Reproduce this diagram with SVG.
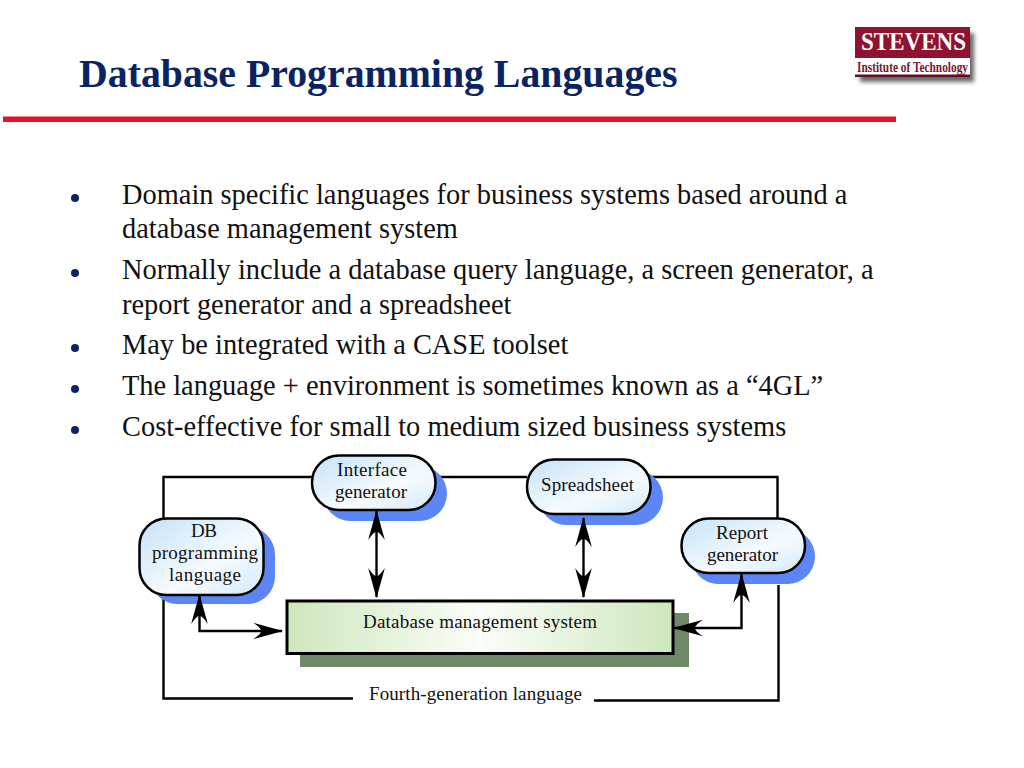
<svg xmlns="http://www.w3.org/2000/svg" width="1024" height="768" viewBox="0 0 1024 768">
<style>
text{font-family:"Liberation Serif","Times New Roman",serif}
.title{font-size:39.800px;font-weight:bold;fill:#0a2463}
.b{font-size:28.400px;fill:#111}
.bul{fill:#0a2463}
.l{font-size:19px;fill:#111}
.pill{fill:url(#pg);stroke:#000;stroke-width:2.5}
.sh{fill:#5c86f5}
.con{fill:none;stroke:#000;stroke-width:2.4}
</style>
<defs>
<linearGradient id="pg" x1="0" y1="0" x2="1" y2="1"><stop offset="0" stop-color="#c4e2f7"/><stop offset="0.6" stop-color="#f6fbfe"/><stop offset="1" stop-color="#d2e9f9"/></linearGradient>
<linearGradient id="bg" x1="0" y1="0" x2="1" y2="0"><stop offset="0" stop-color="#cde7bc"/><stop offset="0.5" stop-color="#fafdf8"/><stop offset="1" stop-color="#cde7bc"/></linearGradient>
<marker id="ah" markerUnits="userSpaceOnUse" markerWidth="30" markerHeight="18" viewBox="0 0 27 16" refX="26" refY="8" orient="auto-start-reverse"><path d="M27 8L0 0.5Q8 6 7 8Q8 10 0 15.5Z" fill="#000"/></marker>
<filter id="blur" x="-20%" y="-20%" width="140%" height="140%"><feGaussianBlur stdDeviation="2"/></filter>
</defs>
<rect width="1024" height="768" fill="#fff"/>
<text class="title" x="79" y="87">Database Programming Languages</text>
<rect x="3" y="116.500" width="893" height="5.500" fill="#e8102f"/>
<g id="logo">
<rect x="860" y="33" width="114" height="49" fill="#666" filter="url(#blur)"/>
<rect x="855" y="27" width="115" height="50" fill="#fff"/>
<rect x="855" y="27" width="115" height="31" fill="#8f1230"/>
<rect x="855" y="74.500" width="115" height="2.500" fill="#5a1020"/>
<text x="861" y="50" font-size="25" font-weight="bold" fill="#fff" textLength="105" lengthAdjust="spacingAndGlyphs">STEVENS</text>
<text x="857" y="72" font-size="14" font-weight="bold" fill="#7a1530" textLength="111" lengthAdjust="spacingAndGlyphs">Institute of Technology</text>
</g>
<g id="bullets">
<circle class="bul" cx="75" cy="198" r="4"/><circle class="bul" cx="75" cy="273" r="4"/><circle class="bul" cx="75" cy="348" r="4"/><circle class="bul" cx="75" cy="389" r="4"/><circle class="bul" cx="75" cy="430" r="4"/>
<text class="b" x="122" y="203.500">Domain specific languages for business systems based around a</text>
<text class="b" x="122" y="237.500">database management system</text>
<text class="b" x="122" y="278.500">Normally include a database query language, a screen generator, a</text>
<text class="b" x="122" y="313.500">report generator and a spreadsheet</text>
<text class="b" x="122" y="353.500">May be integrated with a CASE toolset</text>
<text class="b" x="122" y="394.500">The language + environment is sometimes known as a “4GL”</text>
<text class="b" x="122" y="435.500">Cost-effective for small to medium sized business systems</text>
</g>
<g id="connectors">
<path class="con" d="M163.500 518V477H312M435 477H527M651 477H777.500V518M163.500 596V698.500H353M594 700.500H778.500V585"/>
</g>
<g id="dbms">
<rect x="300" y="613" width="389" height="54" fill="#6f8a68"/>
<rect x="287" y="601" width="386" height="52.500" fill="url(#bg)" stroke="#000" stroke-width="3"/>
<text class="l" x="363" y="628" textLength="234">Database management system</text>
</g>
<g id="interface">
<rect class="sh" x="323" y="466" width="124" height="55" rx="27.500"/>
<rect class="pill" x="312" y="455.500" width="123.500" height="54.500" rx="27"/>
<text class="l" x="337" y="476" textLength="70">Interface</text><text class="l" x="335" y="498" textLength="72">generator</text>
</g>
<g id="spreadsheet">
<rect class="sh" x="539" y="470" width="124" height="55" rx="27.500"/>
<rect class="pill" x="527" y="459.500" width="123.500" height="54.500" rx="27"/>
<text class="l" x="541" y="491" textLength="93">Spreadsheet</text>
</g>
<g id="dbpl">
<rect class="sh" x="150" y="527" width="125" height="77" rx="27.500"/>
<rect class="pill" x="139.500" y="518.500" width="124" height="76.500" rx="27"/>
<text class="l" x="191" y="537" textLength="26">DB</text><text class="l" x="152" y="559" textLength="106">programming</text><text class="l" x="169" y="581" textLength="72">language</text>
</g>
<g id="report">
<rect class="sh" x="691" y="529" width="124" height="55" rx="27.500"/>
<rect class="pill" x="681.500" y="518.500" width="123.500" height="54.500" rx="27"/>
<text class="l" x="716" y="539" textLength="52">Report</text><text class="l" x="707" y="561" textLength="71">generator</text>
</g>
<g id="arrows">
<path class="con" d="M376.500 511V597" marker-start="url(#ah)" marker-end="url(#ah)"/>
<path class="con" d="M583.500 518V597" marker-start="url(#ah)" marker-end="url(#ah)"/>
<path class="con" d="M199.500 595V631H282" marker-start="url(#ah)" marker-end="url(#ah)"/>
<path class="con" d="M741.500 574V628H674" marker-start="url(#ah)" marker-end="url(#ah)"/>
</g>
<text class="l" id="frame-label" x="369" y="700" textLength="213">Fourth-generation language</text>
</svg>
